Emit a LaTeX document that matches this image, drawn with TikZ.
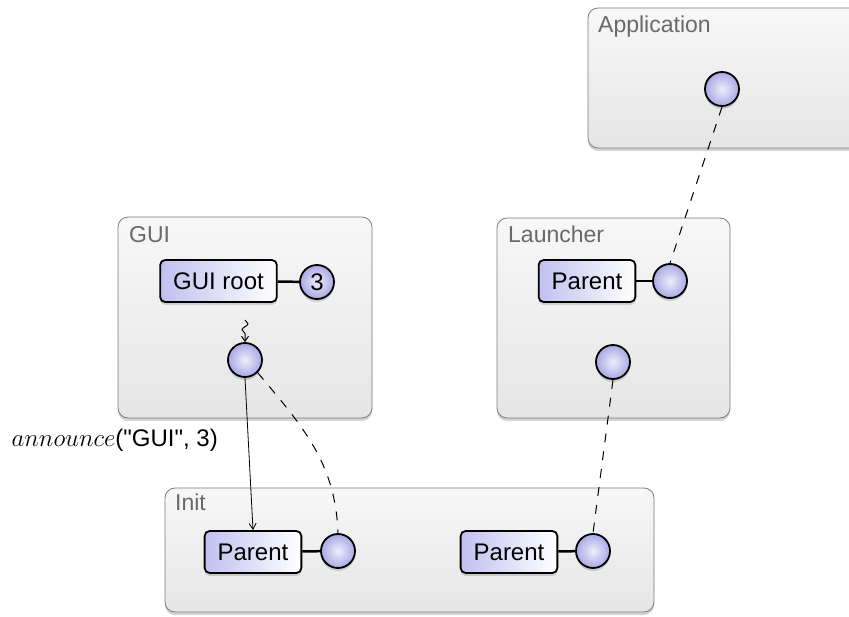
\documentclass[tikz,border=0pt]{standalone}
\usepackage{fontspec}
\setmainfont{Liberation Sans}
\usetikzlibrary{shadows,decorations.pathmorphing,arrows.meta}
\definecolor{nodeblue}{RGB}{192,192,240}
\definecolor{ballblue}{RGB}{168,168,230}
\definecolor{ballcore}{RGB}{238,238,250}
\definecolor{boxline}{RGB}{125,125,125}
\definecolor{labelgray}{RGB}{105,105,105}
\tikzset{
  container/.style={draw=boxline,line width=0.8pt,rounded corners=10pt,top color=white!97!black,bottom color=white!90!black,
    drop shadow={opacity=0.35,shadow xshift=0pt,shadow yshift=-3pt},inner sep=0pt},
  boxname/.style={anchor=north west,text=labelgray,font=\fontsize{23}{26}\selectfont,inner sep=0pt},
  parentbox/.style={draw,line width=1.8pt,rounded corners=5pt,left color=nodeblue,right color=white,minimum height=42pt,
    inner xsep=13pt,font=\fontsize{24}{28}\selectfont,drop shadow={opacity=0.3,shadow xshift=0pt,shadow yshift=-3pt}},
  ball/.style={circle,draw,line width=1.8pt,inner color=ballcore,outer color=ballblue,minimum size=34pt,inner sep=0pt,
    font=\fontsize{24}{28}\selectfont,drop shadow={opacity=0.3,shadow xshift=0pt,shadow yshift=-3pt}},
  link/.style={line width=2.5pt},
  weak/.style={line width=1pt,dash pattern=on 9pt off 9pt},
}
\begin{document}
\begin{tikzpicture}[x=1pt,y=-1pt]
\useasboundingbox (0,0) rectangle (849,617);
% containers
\node[container,minimum width=281pt,minimum height=140pt](app)at(728.5,78){};
\node[boxname](appname)at(598,16){Application};
\node[container,minimum width=254pt,minimum height=201pt](gui)at(245,317.5){};
\node[boxname](guiname)at(129,226){GUI};
\node[container,minimum width=233pt,minimum height=200pt](launcher)at(613.5,318){};
\node[boxname](launchername)at(508,226){Launcher};
\node[container,minimum width=489pt,minimum height=124pt](init)at(409.5,550){};
\node[boxname](initname)at(175,494){Init};
% parent boxes and balls
\node[ball](appC)at(722,89){};
\node[parentbox](guiroot)at(218.5,281){GUI root};
\node[ball](guinum)at(317,282){3};
\draw[link](guiroot)--(guinum);
\node[ball](guiC)at(245,360){};
\node[parentbox](launchP)at(587,281){Parent};
\node[ball](launchC)at(670,281){};
\draw[link](launchP)--(launchC);
\node[ball](launchD)at(613,362){};
\node[parentbox](initP)at(253,552){Parent};
\node[ball](initC)at(338,551){};
\draw[link](initP)--(initC);
\node[parentbox](initQ)at(509,552){Parent};
\node[ball](initD)at(593,551){};
\draw[link](initQ)--(initD);
% connectors
\coordinate(snk)at(245,320);
\draw[line width=1pt,-{Straight Barb[length=5pt,width=7pt]},decorate,decoration={snake,amplitude=3pt,segment length=12pt,post length=5pt}](snk)--(guiC.north);
\draw[line width=0.8pt,-{Straight Barb[length=6pt,width=7pt]}](guiC.south)--(initP.north);
\node[anchor=east,inner sep=0pt,font=\fontsize{24}{28}\selectfont](announce)at(218,440){$announce$(\textquotedbl GUI\textquotedbl, 3)};
\draw[weak](guiC.-45) to[out=-50,in=92] (initC.north);
\draw[weak](appC.south)--(launchC.north);
\draw[weak](launchD.south)--(initD.north);
\end{tikzpicture}
\end{document}
